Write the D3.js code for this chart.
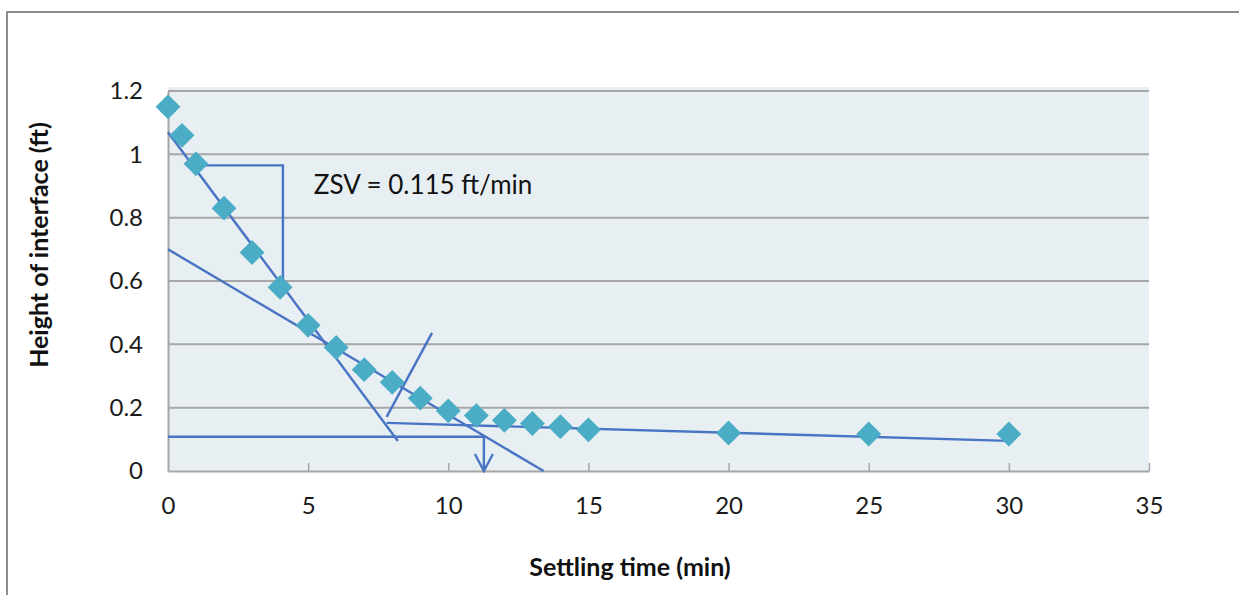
<!DOCTYPE html>
<html><head><meta charset="utf-8">
<script src="https://cdn.jsdelivr.net/npm/d3@7"></script>
<style>body{margin:0;background:#fff;} text{font-family:Lato,"Open Sans",sans-serif;}</style>
</head><body><svg id="c" width="1239" height="595"></svg>
<script>
const times = [0,0.5,1,2,3,4,5,6,7,8,9,10,11,12,13,14,15,20,25,30];
const heights = [1.15,1.06,0.97,0.83,0.69,0.58,0.46,0.39,0.32,0.28,0.23,0.19,0.175,0.16,0.15,0.14,0.13,0.12,0.117,0.117];
const xTicks = [0,5,10,15,20,25,30,35];
const yTicks = [0,0.2,0.4,0.6,0.8,1,1.2];
const yTickLabels = ["0","0.2","0.4","0.6","0.8","1","1.2"];
// construction lines (data coords)
const steepLine = [[0,1.07],[8.2,0.095]];
const shallowLine = [[0,0.70],[13.4,0]];
const slopeBracket = [[0.9,0.965],[4.1,0.965],[4.1,0.59]];
const bisector = [[7.8,0.171],[9.42,0.436]];
const compressionLine = [[7.8,0.152],[30,0.095]];
const underflowLine = [[0,0.108],[11.27,0.108],[11.27,0]];
const annotation = "ZSV = 0.115 ft/min";
const xTitle = "Settling time (min)";
const yTitle = "Height of interface (ft)";

const svg = d3.select("#c");
const x = d3.scaleLinear().domain([0,35]).range([168,1149]);
const y = d3.scaleLinear().domain([0,1.2]).range([471,91]);

// outer frame
svg.append("rect").attr("x",7).attr("y",12).attr("width",1260).attr("height",620)
  .attr("fill","none").attr("stroke","#8c8c8c").attr("stroke-width",2);

// plot bg
svg.append("rect").attr("x",x(0)).attr("y",y(1.2)-4).attr("width",x(35)-x(0)).attr("height",y(0)-y(1.2)+4)
  .attr("fill","#e8eff3");

// gridlines
svg.append("g").selectAll("line").data(yTicks.slice(1)).join("line")
  .attr("x1",x(0)).attr("x2",x(35)).attr("y1",d=>y(d)).attr("y2",d=>y(d))
  .attr("stroke","#a6a6a6").attr("stroke-width",2);

// axes
const xAxis = d3.axisBottom(x).tickValues(xTicks).tickSizeInner(-8).tickSizeOuter(0).tickPadding(26);
const gx = svg.append("g").attr("transform",`translate(0,${y(0)})`).call(xAxis);
gx.select(".domain").attr("stroke","#a6a6a6").attr("stroke-width",2);
gx.selectAll(".tick line").attr("stroke","#a6a6a6").attr("stroke-width",1.5);
gx.selectAll(".tick").filter(d=>d===0).select("line").remove();
gx.selectAll("text").attr("font-size",24).attr("fill","#1a1a1a").attr("font-family","Lato,sans-serif");

const yAxis = d3.axisLeft(y).tickValues(yTicks).tickFormat((d,i)=>yTickLabels[i]).tickSize(0).tickPadding(25);
const gy = svg.append("g").attr("transform",`translate(${x(0)},0)`).call(yAxis);
gy.select(".domain").attr("stroke","#a6a6a6").attr("stroke-width",2);
gy.selectAll("text").attr("font-size",24).attr("fill","#1a1a1a").attr("font-family","Lato,sans-serif");

// construction lines
const line = d3.line().x(d=>x(d[0])).y(d=>y(d[1]));
const blue = "#4874c4";
[steepLine, shallowLine, slopeBracket, bisector, compressionLine, underflowLine].forEach(pts=>{
  svg.append("path").attr("d",line(pts)).attr("fill","none").attr("stroke",blue).attr("stroke-width",2.4);
});
// arrowhead
const tip = underflowLine[2];
svg.append("path").attr("d",`M${x(tip[0])-9},${y(tip[1])-17}L${x(tip[0])},${y(tip[1])}L${x(tip[0])+9},${y(tip[1])-17}`)
  .attr("fill","none").attr("stroke",blue).attr("stroke-width",2.4);

// markers
const sym = d3.symbol().type(d3.symbolSquare).size(310);
svg.append("g").selectAll("path").data(times.map((t,i)=>[t,heights[i]])).join("path")
  .attr("d",sym).attr("transform",d=>`translate(${x(d[0])},${y(d[1])}) rotate(45)`)
  .attr("fill","#4bacc6");

// annotation
svg.append("text").attr("x",x(5.2)).attr("y",y(0.875)).attr("font-size",26).attr("fill","#111").text(annotation);

// titles
svg.append("text").attr("x",630).attr("y",576).attr("text-anchor","middle").attr("font-size",25)
  .attr("font-weight","bold").attr("fill","#111").text(xTitle);
svg.append("text").attr("transform","translate(48,245) rotate(-90)").attr("text-anchor","middle").attr("font-size",25)
  .attr("font-weight","bold").attr("fill","#111").text(yTitle);
</script></body></html>
